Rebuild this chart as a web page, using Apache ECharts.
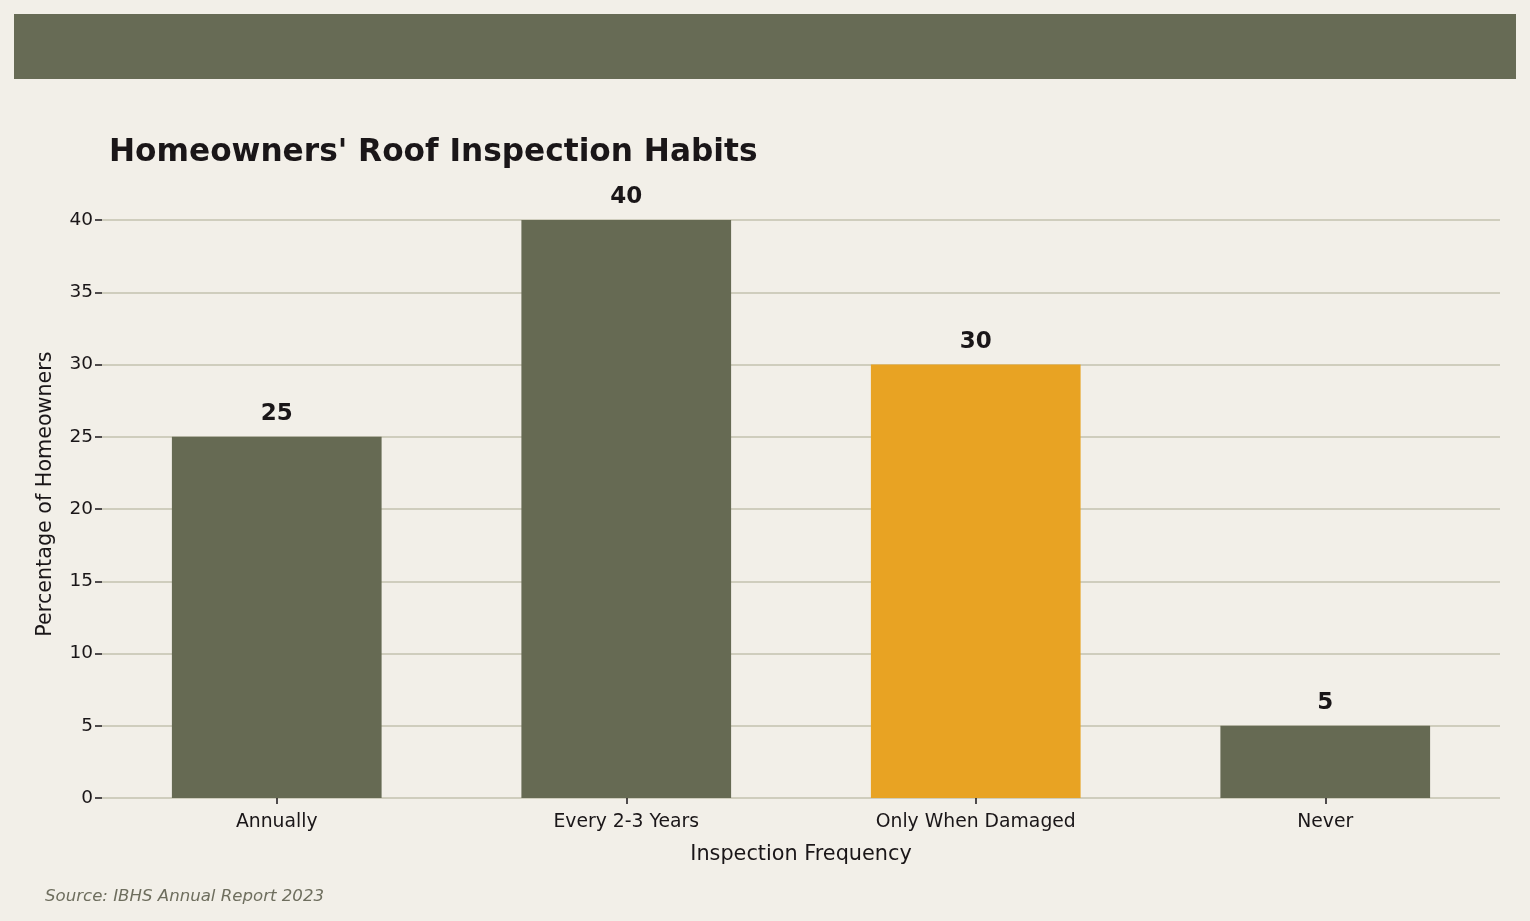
<!DOCTYPE html>
<html>
<head>
<meta charset="utf-8">
<script src="https://cdn.jsdelivr.net/npm/echarts@6/dist/echarts.min.js"></script>
<style>
  html, body { margin: 0; padding: 0; background: #f2efe8; }
  #chart { width: 1530px; height: 921px; }
</style>
</head>
<body>
<div id="chart"></div>
<script>
const categories = ['Annually', 'Every 2-3 Years', 'Only When Damaged', 'Never'];
const percentages = [25, 40, 30, 5];
const highlightIndex = 2;

const FONT = '"DejaVu Sans", Verdana, sans-serif';

const chart = echarts.init(document.getElementById('chart'));

const option = {
  backgroundColor: '#f2efe8',
  textStyle: { fontFamily: FONT },
  graphic: [{
    type: 'rect',
    left: 14, top: 14,
    shape: { width: 1502, height: 65 },
    style: { fill: '#676b55' },
    silent: true
  }, {
    type: 'text',
    left: 45, top: 888,
    style: {
      text: 'Source: IBHS Annual Report 2023',
      fontFamily: FONT,
      fontStyle: 'italic',
      fontSize: 16.6,
      fill: '#6e6e5e'
    }
  }, {
    // y-axis title, centred on the taller matplotlib-style axes
    type: 'text',
    x: 46, y: 494,
    rotation: Math.PI / 2,
    style: {
      text: 'Percentage of Homeowners',
      fontFamily: FONT,
      fontSize: 20.7,
      fill: '#1a1618',
      align: 'center',
      verticalAlign: 'middle'
    }
  }],
  title: {
    text: "Homeowners' Roof Inspection Habits",
    left: 104, top: 132,
    textStyle: { fontSize: 31.2, fontWeight: 'bold', color: '#1a1618', fontFamily: FONT }
  },
  grid: { left: 102, right: 30, top: 220, bottom: 123 },
  xAxis: {
    type: 'category',
    data: categories,
    name: 'Inspection Frequency',
    nameLocation: 'middle',
    nameGap: 46,
    nameTextStyle: { fontSize: 20.8, color: '#1a1618', fontFamily: FONT },
    axisLine: { show: false },
    axisTick: { show: true, alignWithLabel: true, length: 6, lineStyle: { color: '#1a1618', width: 1.5 } },
    axisLabel: { fontSize: 18.8, color: '#1a1618', margin: 15, fontFamily: FONT }
  },
  yAxis: {
    type: 'value',
    min: 0, max: 40, interval: 5,
    axisLine: { show: false },
    axisTick: { show: true, length: 7, lineStyle: { color: '#1a1618', width: 1.5 } },
    axisLabel: { fontSize: 18.5, color: '#1a1618', margin: 9, fontFamily: FONT },
    splitLine: { lineStyle: { color: '#cfcdbd', width: 2 } }
  },
  series: [{
    type: 'bar',
    barWidth: '60%',
    data: percentages.map((v, i) => ({
      value: v,
      itemStyle: { color: i === highlightIndex ? '#e8a323' : '#666a53' }
    })),
    label: {
      show: true,
      position: 'top',
      distance: 11,
      fontSize: 23,
      fontWeight: 'bold',
      color: '#1a1618',
      fontFamily: FONT
    }
  }]
};

chart.setOption(option);
</script>
</body>
</html>
